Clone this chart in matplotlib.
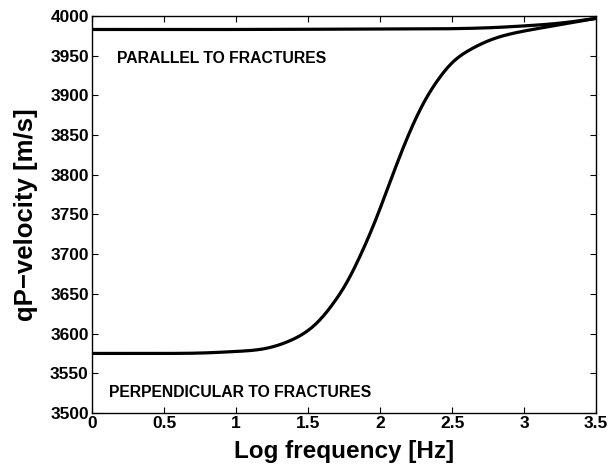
import numpy as np
import matplotlib
matplotlib.use("Agg")
import matplotlib.pyplot as plt

plt.rcParams['font.family'] = ['Liberation Sans', 'DejaVu Sans']
plt.rcParams['font.weight'] = 'bold'

# log10 frequency [Hz] and qP velocity [m/s], wave perpendicular to fractures
logf_perp = [0.0, 0.5, 0.75, 1.0, 1.21, 1.373, 1.558, 1.674, 1.767, 1.859, 1.975,
             2.067, 2.183, 2.31, 2.40, 2.50, 2.63, 2.77, 3.0, 3.25, 3.5]
vp_perp = [3575, 3575, 3575.5, 3577.5, 3581.5, 3591, 3613, 3638, 3664, 3697, 3746,
           3790, 3844, 3893, 3919, 3941, 3958, 3970, 3981, 3989, 3997]

# same, wave parallel to fractures
logf_par = [0.0, 1.0, 2.0, 2.5, 2.8, 3.0, 3.25, 3.5]
vp_par = [3983, 3983, 3983.5, 3984, 3985.5, 3987.5, 3991, 3997]


def spline(x, y, xn):
    # natural cubic spline through the read-off points
    x = np.asarray(x, float)
    y = np.asarray(y, float)
    n = len(x)
    h = np.diff(x)
    A = np.zeros((n, n))
    r = np.zeros(n)
    A[0, 0] = A[-1, -1] = 1.0
    for k in range(1, n - 1):
        A[k, k - 1] = h[k - 1]
        A[k, k] = 2 * (h[k - 1] + h[k])
        A[k, k + 1] = h[k]
        r[k] = 6 * ((y[k + 1] - y[k]) / h[k] - (y[k] - y[k - 1]) / h[k - 1])
    M = np.linalg.solve(A, r)
    i = np.clip(np.searchsorted(x, xn) - 1, 0, n - 2)
    a = x[i + 1] - xn
    b = xn - x[i]
    return (M[i] * a**3 / (6 * h[i]) + M[i + 1] * b**3 / (6 * h[i])
            + (y[i] / h[i] - M[i] * h[i] / 6) * a
            + (y[i + 1] / h[i] - M[i + 1] * h[i] / 6) * b)


xg = np.linspace(0, 3.5, 400)

fig = plt.figure(figsize=(6.09, 4.70), dpi=100)
ax = fig.add_axes([0.1516, 0.1213, 0.8270, 0.8447])

ax.plot(xg, spline(logf_par, vp_par, xg), 'k', lw=2.3)
ax.plot(xg, spline(logf_perp, vp_perp, xg), 'k', lw=2.3)

ax.text(0.174, 3947, 'PARALLEL TO FRACTURES', fontsize=11.3, fontweight='bold', va='center')
ax.text(0.116, 3525.5, 'PERPENDICULAR TO FRACTURES', fontsize=11.3, fontweight='bold', va='center')

ax.set_xlim(0, 3.5)
ax.set_ylim(3500, 4000)
ax.set_xticks(np.arange(0, 3.51, 0.5))
ax.set_xticklabels(['0', '0.5', '1', '1.5', '2', '2.5', '3', '3.5'])
ax.set_yticks(np.arange(3500, 4001, 50))
ax.tick_params(direction='in', top=True, right=True, length=4, width=0.8,
               labelsize=12.5, pad=2.5)
for lab in ax.get_xticklabels() + ax.get_yticklabels():
    lab.set_fontweight('bold')
for sp in ax.spines.values():
    sp.set_linewidth(1.0)

ax.set_xlabel('Log frequency [Hz]', fontsize=17.5, fontweight='bold', labelpad=6)
ax.set_ylabel('qP\u2212velocity [m/s]', fontsize=18.5, fontweight='bold', labelpad=9)

fig.savefig('out.png', dpi=100)
plt.close(fig)
